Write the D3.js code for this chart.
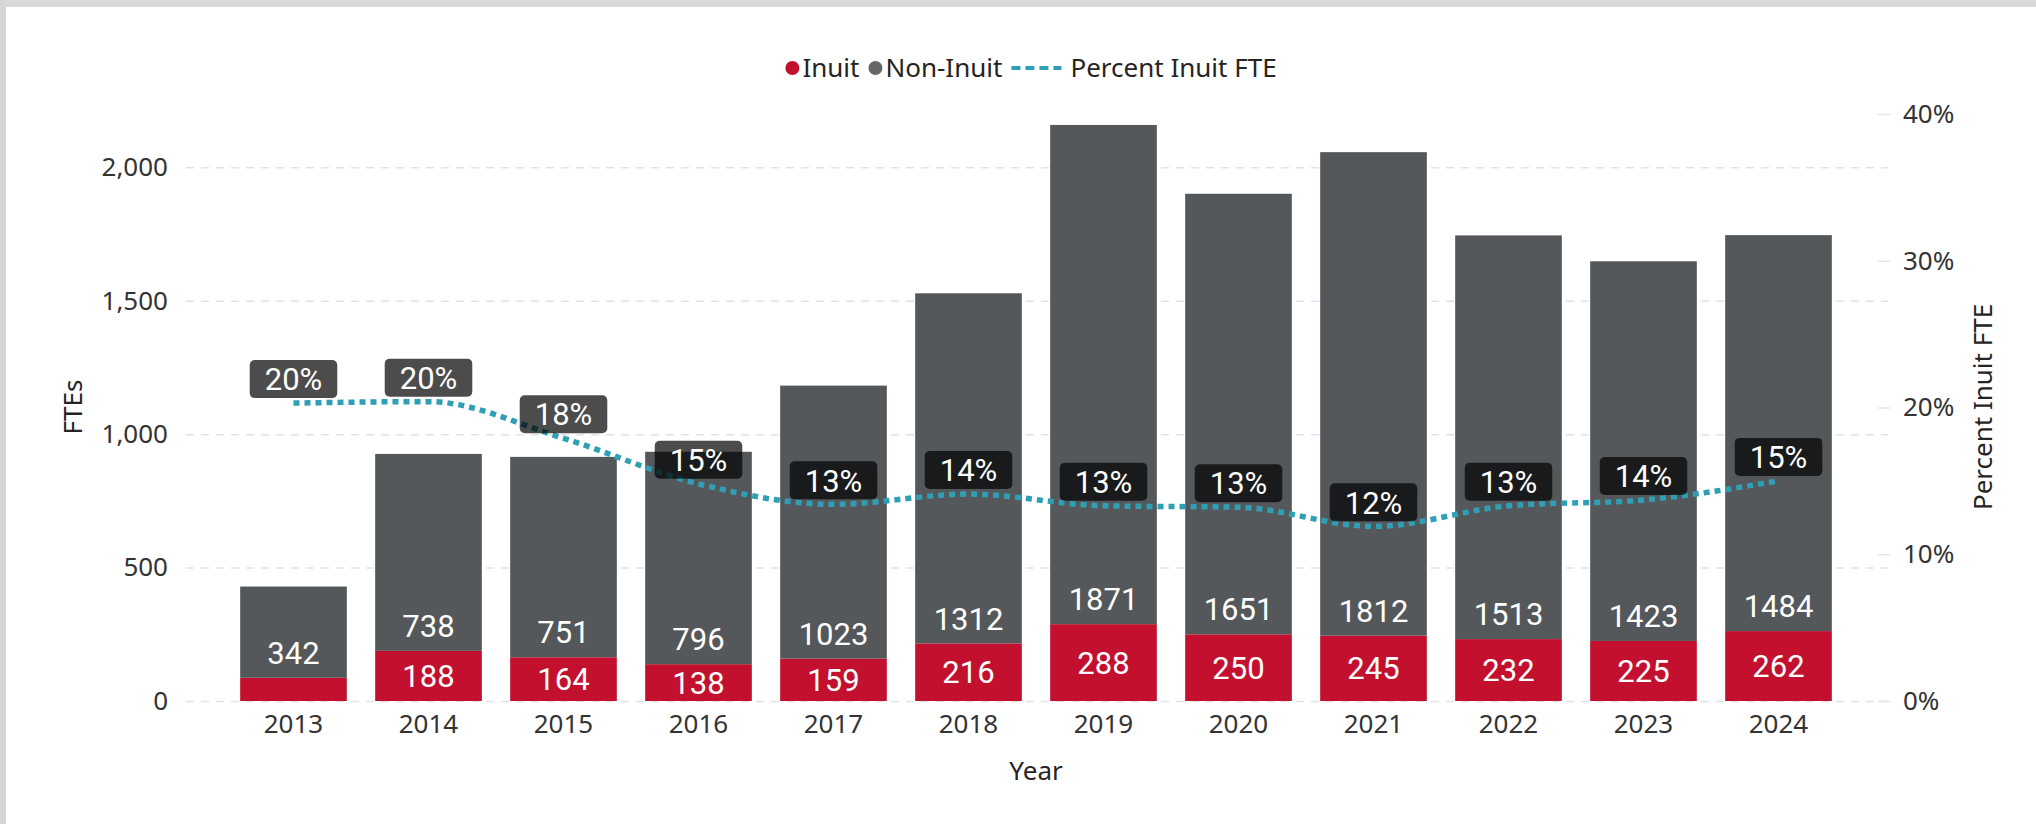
<!DOCTYPE html>
<html>
<head>
<meta charset="utf-8">
<script src="https://cdn.jsdelivr.net/npm/d3@7"></script>
<style>
  body { margin: 0; background: #fff; }
  text { font-family: "Noto Sans", "Open Sans", sans-serif; }
  .val { font-family: Roboto, sans-serif; }
</style>
</head>
<body>
<div id="chart"></div>
<script>
// data
var years = ["2013", "2014", "2015", "2016", "2017", "2018", "2019", "2020", "2021", "2022", "2023", "2024"];
var inuit = [87, 188, 164, 138, 159, 216, 288, 250, 245, 232, 225, 262];
var nonInuit = [342, 738, 751, 796, 1023, 1312, 1871, 1651, 1812, 1513, 1423, 1484];
var pctInuit = [0.203, 0.204, 0.179, 0.148, 0.134, 0.141, 0.133, 0.132, 0.119, 0.133, 0.137, 0.150];
var leftTicks = [0, 500, 1000, 1500, 2000];
var rightTicks = [0, 0.1, 0.2, 0.3, 0.4];

var W = 2036, H = 824;
var red = "#c3102f", gray = "#55585b", teal = "#2f9fb6";

var data = years.map(function(y, i) {
    return { year: y, inuit: inuit[i], non: nonInuit[i], pct: pctInuit[i] };
});

var svg = d3.select("#chart").append("svg")
    .attr("width", W)
    .attr("height", H);

svg.append("rect").attr("width", W).attr("height", H).attr("fill", "#fff");
// frame bands from the screenshot
svg.append("rect").attr("width", W).attr("height", 7).attr("fill", "#d9d9d9");
svg.append("rect").attr("width", 6).attr("height", H).attr("fill", "#d6d6d6");

// scales
var x = d3.scaleBand()
    .domain(years)
    .range([226, 1846])
    .paddingInner(0.21)
    .paddingOuter(0.105);

var y = d3.scaleLinear().domain([0, 2200]).range([701, 114]);
var y2 = d3.scaleLinear().domain([0, 0.4]).range([701, 114]);

// gridlines + left axis
var gridLeft = 186, gridRight = 1888;
var yAxis = svg.append("g")
    .attr("transform", "translate(" + gridLeft + ",0)")
    .call(d3.axisLeft(y)
        .tickValues(leftTicks)
        .tickFormat(d3.format(","))
        .tickSizeInner(-(gridRight - gridLeft))
        .tickSizeOuter(0)
        .tickPadding(18));
yAxis.select(".domain").remove();
yAxis.selectAll(".tick line")
    .attr("stroke", "#e2e2e2")
    .attr("stroke-width", 1.5)
    .attr("stroke-dasharray", "8,7");
yAxis.selectAll(".tick text")
    .attr("fill", "#333")
    .style("font-size", "26px");

// right axis
var y2Axis = svg.append("g")
    .attr("transform", "translate(1878,0)")
    .call(d3.axisRight(y2)
        .tickValues(rightTicks)
        .tickFormat(d3.format(".0%"))
        .tickSizeInner(12)
        .tickSizeOuter(0)
        .tickPadding(13));
y2Axis.select(".domain").remove();
y2Axis.selectAll(".tick line").attr("stroke", "#e6e6e6").attr("stroke-width", 1.5);
y2Axis.selectAll(".tick text")
    .attr("fill", "#333")
    .style("font-size", "26px");

// x axis
var xAxis = svg.append("g")
    .attr("transform", "translate(0,701)")
    .call(d3.axisBottom(x).tickSize(0).tickPadding(14));
xAxis.select(".domain").remove();
xAxis.selectAll(".tick text")
    .attr("fill", "#333")
    .style("font-size", "26px");

// bars
var bars = svg.append("g");
bars.selectAll(".red")
    .data(data)
  .enter().append("rect")
    .attr("class", "red")
    .attr("x", function(d) { return x(d.year); })
    .attr("width", x.bandwidth())
    .attr("y", function(d) { return y(d.inuit); })
    .attr("height", function(d) { return y(0) - y(d.inuit); })
    .attr("fill", red);

bars.selectAll(".gray")
    .data(data)
  .enter().append("rect")
    .attr("class", "gray")
    .attr("x", function(d) { return x(d.year); })
    .attr("width", x.bandwidth())
    .attr("y", function(d) { return y(d.inuit + d.non); })
    .attr("height", function(d) { return y(d.inuit) - y(d.inuit + d.non); })
    .attr("fill", gray);

// bar value labels
var cx = function(d) { return x(d.year) + x.bandwidth() / 2; };
svg.append("g").selectAll("text")
    .data(data.filter(function(d) { return y(0) - y(d.inuit) > 32; }))
  .enter().append("text")
    .attr("class", "val")
    .attr("x", cx)
    .attr("y", function(d) { return (y(0) + y(d.inuit)) / 2; })
    .attr("dy", "0.36em")
    .attr("text-anchor", "middle")
    .attr("fill", "#fff")
    .style("font-size", "31px")
    .text(function(d) { return d.inuit; });

svg.append("g").selectAll("text")
    .data(data)
  .enter().append("text")
    .attr("class", "val")
    .attr("x", cx)
    .attr("y", function(d) { return y(d.inuit) - 25; })
    .attr("dy", "0.36em")
    .attr("text-anchor", "middle")
    .attr("fill", "#fff")
    .style("font-size", "31px")
    .text(function(d) { return d.non; });

// percent line
var line = d3.line()
    .x(cx)
    .y(function(d) { return y2(d.pct); })
    .curve(d3.curveMonotoneX);

svg.append("path")
    .datum(data)
    .attr("d", line)
    .attr("fill", "none")
    .attr("stroke", teal)
    .attr("stroke-width", 5.5)
    .attr("stroke-dasharray", "6,5");

// percent labels
var fmtPct = d3.format(".0%");
var pl = svg.append("g").selectAll("g")
    .data(data)
  .enter().append("g")
    .attr("transform", function(d) { return "translate(" + cx(d) + "," + (y2(d.pct) - 24) + ")"; });

pl.append("text")
    .attr("class", "val")
    .attr("text-anchor", "middle")
    .attr("dy", "0.36em")
    .attr("fill", "#fff")
    .style("font-size", "31px")
    .text(function(d) { return fmtPct(d.pct); });

pl.each(function() {
    var g = d3.select(this);
    var bb = g.select("text").node().getBBox();
    g.insert("rect", "text")
        .attr("x", -bb.width / 2 - 15)
        .attr("y", -19)
        .attr("width", bb.width + 30)
        .attr("height", 38)
        .attr("rx", 5)
        .attr("fill", "#000")
        .attr("fill-opacity", 0.7);
});

// axis titles
svg.append("text")
    .attr("transform", "translate(82,407) rotate(-90)")
    .attr("text-anchor", "middle")
    .attr("fill", "#252423")
    .style("font-size", "26px")
    .text("FTEs");

svg.append("text")
    .attr("transform", "translate(1992,407) rotate(-90)")
    .attr("text-anchor", "middle")
    .attr("fill", "#252423")
    .style("font-size", "26px")
    .text("Percent Inuit FTE");

svg.append("text")
    .attr("x", 1036)
    .attr("y", 780)
    .attr("text-anchor", "middle")
    .attr("fill", "#252423")
    .style("font-size", "26px")
    .text("Year");

// legend
var legend = svg.append("g");
var lx = 0, ly = 68;
function addDot(color) {
    legend.append("circle").attr("cx", lx + 7).attr("cy", ly).attr("r", 7).attr("fill", color);
    lx += 17;
}
function addText(t) {
    var el = legend.append("text")
        .attr("x", lx).attr("y", ly).attr("dy", "0.35em")
        .attr("fill", "#252423")
        .style("font-size", "26px")
        .text(t);
    lx += el.node().getComputedTextLength() + 9;
}
addDot(red); addText("Inuit");
addDot("#666"); addText("Non-Inuit");
legend.append("line")
    .attr("x1", lx).attr("x2", lx + 50)
    .attr("y1", ly).attr("y2", ly)
    .attr("stroke", teal).attr("stroke-width", 4)
    .attr("stroke-dasharray", "9,5");
lx += 59;
addText("Percent Inuit FTE");
legend.attr("transform", "translate(" + (1031 - (lx - 9) / 2) + ",0)");
</script>
</body>
</html>
